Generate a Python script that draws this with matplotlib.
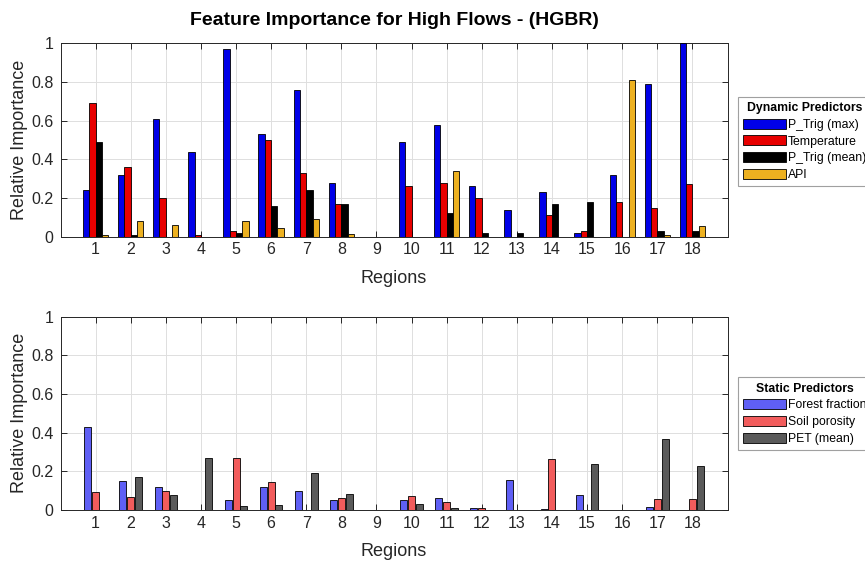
import numpy as np
import matplotlib.pyplot as plt
from matplotlib.lines import Line2D

plt.rcParams['font.family'] = ['Liberation Sans', 'DejaVu Sans']

regions = list(range(1, 19))

# dynamic predictors (top panel)
p_trig_max = [0.24, 0.32, 0.61, 0.44, 0.97, 0.53, 0.76, 0.28, 0.0, 0.49,
              0.58, 0.26, 0.14, 0.23, 0.02, 0.32, 0.79, 1.0]
temperature = [0.69, 0.36, 0.20, 0.01, 0.03, 0.50, 0.33, 0.17, 0.0, 0.26,
               0.28, 0.20, 0.0, 0.11, 0.03, 0.18, 0.15, 0.27]
p_trig_mean = [0.49, 0.01, 0.0, 0.0, 0.02, 0.16, 0.24, 0.17, 0.0, 0.0,
               0.12, 0.02, 0.02, 0.17, 0.18, 0.0, 0.03, 0.03]
api = [0.01, 0.08, 0.06, 0.0, 0.08, 0.045, 0.09, 0.015, 0.0, 0.0,
       0.34, 0.0, 0.0, 0.0, 0.0, 0.81, 0.01, 0.055]

# static predictors (bottom panel)
forest_fraction = [0.43, 0.15, 0.12, 0.0, 0.05, 0.12, 0.10, 0.05, 0.0, 0.05,
                   0.06, 0.01, 0.155, 0.005, 0.08, 0.0, 0.015, 0.0]
soil_porosity = [0.095, 0.065, 0.10, 0.0, 0.27, 0.145, 0.0, 0.06, 0.0, 0.07,
                 0.04, 0.01, 0.0, 0.265, 0.0, 0.0, 0.055, 0.055]
pet_mean = [0.0, 0.17, 0.08, 0.27, 0.02, 0.025, 0.19, 0.085, 0.0, 0.03,
            0.01, 0.0, 0.0, 0.0, 0.24, 0.0, 0.365, 0.23]

dyn_series = [p_trig_max, temperature, p_trig_mean, api]
dyn_labels = ['P_Trig (max)', 'Temperature', 'P_Trig (mean)', 'API']
dyn_colors = ['#0000e8', '#e80000', '#000000', '#edb120']

stat_series = [forest_fraction, soil_porosity, pet_mean]
stat_labels = ['Forest fraction', 'Soil porosity', 'PET (mean)']
stat_colors = ['#5f5ff5', '#f25c5c', '#5a5a5a']

W, H = 865, 563
fig = plt.figure(figsize=(W / 100, H / 100), dpi=100)
ax1 = fig.add_axes([60.5 / W, 1 - 236.7 / H, 667 / W, 193.4 / H])
ax2 = fig.add_axes([60.5 / W, 1 - 510 / H, 667 / W, 193.3 / H])

x = np.array(regions)


def style_axes(ax):
    ax.set_xlim(0, 19)
    ax.set_ylim(0, 1)
    ax.set_xticks(regions)
    ax.set_yticks([0, 0.2, 0.4, 0.6, 0.8, 1])
    ax.set_yticklabels(['0', '0.2', '0.4', '0.6', '0.8', '1'])
    ax.grid(True, color='#dedede', linewidth=0.7)
    ax.set_axisbelow(True)
    ax.tick_params(direction='in', length=4, width=0.7, colors='#262626',
                   labelsize=11.5, top=True, right=True)
    ax.tick_params(axis='x', pad=4)
    ax.tick_params(axis='y', pad=5)
    for s in ax.spines.values():
        s.set_color('#262626')
        s.set_linewidth(0.7)
    ax.set_xlabel('Regions', fontsize=13, color='#262626', labelpad=9)
    ax.set_ylabel('Relative Importance', fontsize=13, color='#262626', labelpad=2)


n = len(dyn_series)
bw = 0.18
for i, (vals, lab, col) in enumerate(zip(dyn_series, dyn_labels, dyn_colors)):
    ax1.bar(x + (i - (n - 1) / 2) * bw, vals, width=bw, color=col,
            edgecolor='black', linewidth=0.6, label=lab, zorder=3)
style_axes(ax1)
ax1.set_title('Feature Importance for High Flows - (HGBR)', fontsize=14,
              fontweight='bold', pad=13)

n = len(stat_series)
bw2 = 0.222
for i, (vals, lab, col) in enumerate(zip(stat_series, stat_labels, stat_colors)):
    ax2.bar(x + (i - (n - 1) / 2) * bw2, vals, width=0.2, color=col,
            edgecolor='black', linewidth=0.6, label=lab, zorder=3)
style_axes(ax2)


def add_legend(ax, title, top_px):
    leg = fig.legend(*ax.get_legend_handles_labels(), loc='upper left',
                     bbox_to_anchor=(737.5 / W, 1 - top_px / H),
                     title=title, fontsize=8.8,
                     title_fontproperties={'weight': 'bold', 'size': 8.8},
                     handlelength=3.5, handleheight=0.9, labelspacing=0.36,
                     handletextpad=0.2, borderpad=0.45, borderaxespad=0,
                     fancybox=False, framealpha=1, edgecolor='#a0a0a0')
    leg.get_frame().set_linewidth(0.8)
    return leg


legs = [add_legend(ax1, 'Dynamic Predictors', 96.7),
        add_legend(ax2, 'Static Predictors', 377.3)]

# separator line under each legend title
fig.canvas.draw()
for leg in legs:
    bb = leg.get_window_extent()
    tb = leg.get_title().get_window_extent()
    y = tb.y0 - 3
    fig.add_artist(Line2D([bb.x0, bb.x1], [y, y], transform=None,
                          color='#a0a0a0', linewidth=0.8))

fig.savefig('out.png', dpi=100)
